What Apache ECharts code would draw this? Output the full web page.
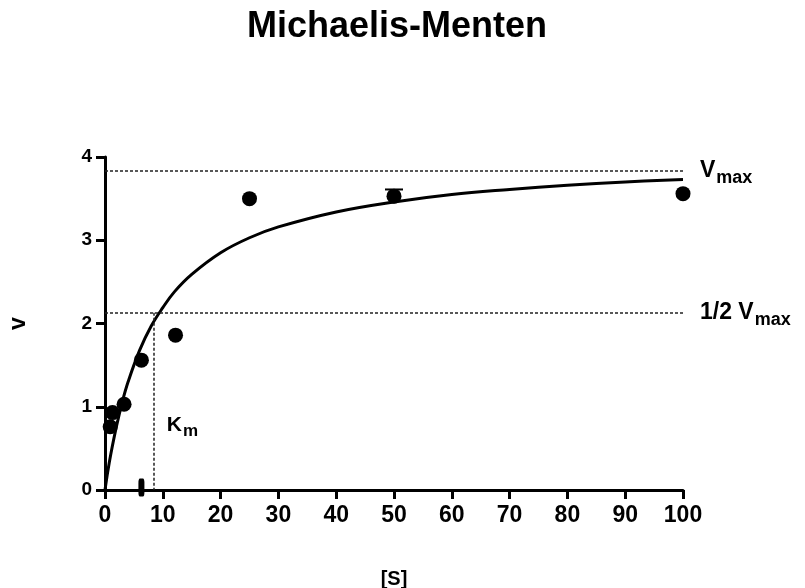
<!DOCTYPE html>
<html>
<head>
<meta charset="utf-8">
<script src="https://cdn.jsdelivr.net/npm/echarts@6/dist/echarts.min.js"></script>
<style>
  html, body { margin: 0; padding: 0; background: #fff; }
  #main { width: 805px; height: 588px; }
</style>
</head>
<body>
<div id="main"></div>
<script>
var titleText = 'Michaelis-Menten';

// measured points [S], v
var pointS = [0.9, 1.3, 3.3, 6.3, 12.2, 25, 50, 100];
var pointV = [0.76, 0.93, 1.03, 1.56, 1.86, 3.50, 3.53, 3.56];
// odd mark sitting on the x axis
var baseS = [6.3];
var baseV = [0.03];
// error bar (upper end) at S = 50
var errS = [50];
var errV = [3.53];
var errHi = [3.61];

// fitted curve
var curveS = [0, 0.5, 1, 2, 3, 4, 6, 8, 10, 12, 15, 20, 25, 30, 40, 50, 60, 70, 80, 90, 100];
var curveV = [0, 0.23, 0.43, 0.77, 1.06, 1.30, 1.68, 1.97, 2.19, 2.38, 2.59, 2.85, 3.03, 3.16, 3.34, 3.46, 3.55, 3.61, 3.66, 3.70, 3.73];

// reference lines
var vmax = 3.83;
var halfVmax = 2.13;
var km = 8.5;

var font = 'Liberation Sans, Arial, sans-serif';

var myChart = echarts.init(document.getElementById('main'));

function zip(a, b) {
    return a.map(function (x, i) { return [x, b[i]]; });
}

var dash = { color: '#222', width: 1.5, type: [3, 2] };

option = {
    animation: false,
    backgroundColor: '#fff',
    title: {
        text: titleText,
        left: 242,
        top: 4,
        textStyle: { fontFamily: font, fontSize: 36, fontWeight: 'bold', color: '#000' }
    },
    grid: { left: 105, right: 122, top: 157, bottom: 98, outerBoundsMode: 'none', containLabel: false },
    xAxis: {
        type: 'value',
        min: 0,
        max: 100,
        interval: 10,
        name: '[S]',
        nameLocation: 'middle',
        nameGap: 79,
        nameTextStyle: { fontFamily: font, fontSize: 20, fontWeight: 'bold', color: '#000' },
        splitLine: { show: false },
        axisLine: { lineStyle: { color: '#000', width: 3 } },
        axisTick: { length: 9, lineStyle: { color: '#000', width: 3 } },
        axisLabel: { margin: 14, fontFamily: font, fontSize: 23, fontWeight: 'bold', color: '#000' }
    },
    yAxis: {
        type: 'value',
        min: 0,
        max: 4,
        interval: 1,
        name: 'v',
        nameLocation: 'middle',
        nameRotate: 90,
        nameGap: 75,
        nameTextStyle: { fontFamily: font, fontSize: 23, fontWeight: 'bold', color: '#000' },
        splitLine: { show: false },
        axisLine: { lineStyle: { color: '#000', width: 3 } },
        axisTick: { length: 9, lineStyle: { color: '#000', width: 3 } },
        axisLabel: { margin: 13, fontFamily: font, fontSize: 19, fontWeight: 'bold', color: '#000' }
    },
    series: [
        {
            type: 'line',
            data: zip(curveS, curveV),
            smooth: 0.4,
            showSymbol: false,
            lineStyle: { color: '#000', width: 3 },
            z: 2,
            markLine: {
                silent: true,
                symbol: 'none',
                lineStyle: dash,
                label: {
                    position: 'end',
                    distance: 17,
                    fontFamily: font,
                    fontWeight: 'bold',
                    color: '#000',
                    rich: {
                        v: { fontFamily: font, fontSize: 23, fontWeight: 'bold', color: '#000' },
                        s: { fontFamily: font, fontSize: 18, fontWeight: 'bold', color: '#000', padding: [14, 0, 0, 1] }
                    }
                },
                data: [
                    [{ coord: [0, vmax], label: { formatter: '{v|V}{s|max}' } }, { coord: [100, vmax] }],
                    [{ coord: [0, halfVmax], label: { formatter: '{v|1/2 V}{s|max}' } }, { coord: [100, halfVmax] }],
                    [{ coord: [km, halfVmax], label: { show: false } }, { coord: [km, 0] }]
                ]
            },
            markPoint: {
                silent: true,
                symbol: 'circle',
                symbolSize: 0,
                label: {
                    position: 'right',
                    distance: 0,
                    formatter: '{v|K}{s|m}',
                    rich: {
                        v: { fontFamily: font, fontSize: 21, fontWeight: 'bold', color: '#000' },
                        s: { fontFamily: font, fontSize: 17, fontWeight: 'bold', color: '#000', padding: [12, 0, 0, 1] }
                    }
                },
                data: [{ coord: [10.7, 0.78] }]
            }
        },
        {
            type: 'custom',
            z: 3,
            renderItem: function (params, api) {
                var p = api.coord([api.value(0), api.value(1)]);
                var h = api.coord([api.value(0), api.value(2)]);
                return {
                    type: 'group',
                    children: [
                        { type: 'line', shape: { x1: p[0], y1: p[1], x2: h[0], y2: h[1] }, style: { stroke: '#000', lineWidth: 2 } },
                        { type: 'line', shape: { x1: h[0] - 9, y1: h[1], x2: h[0] + 9, y2: h[1] }, style: { stroke: '#000', lineWidth: 2 } }
                    ]
                };
            },
            data: errS.map(function (s, i) { return [s, errV[i], errHi[i]]; })
        },
        {
            type: 'scatter',
            data: zip(pointS, pointV),
            symbol: 'circle',
            symbolSize: 15,
            itemStyle: { color: '#000', opacity: 1 },
            z: 4
        },
        {
            type: 'scatter',
            data: zip(baseS, baseV),
            symbol: 'roundRect',
            symbolSize: [6, 18],
            itemStyle: { color: '#000', opacity: 1 },
            z: 4
        }
    ]
};

myChart.setOption(option);
</script>
</body>
</html>
